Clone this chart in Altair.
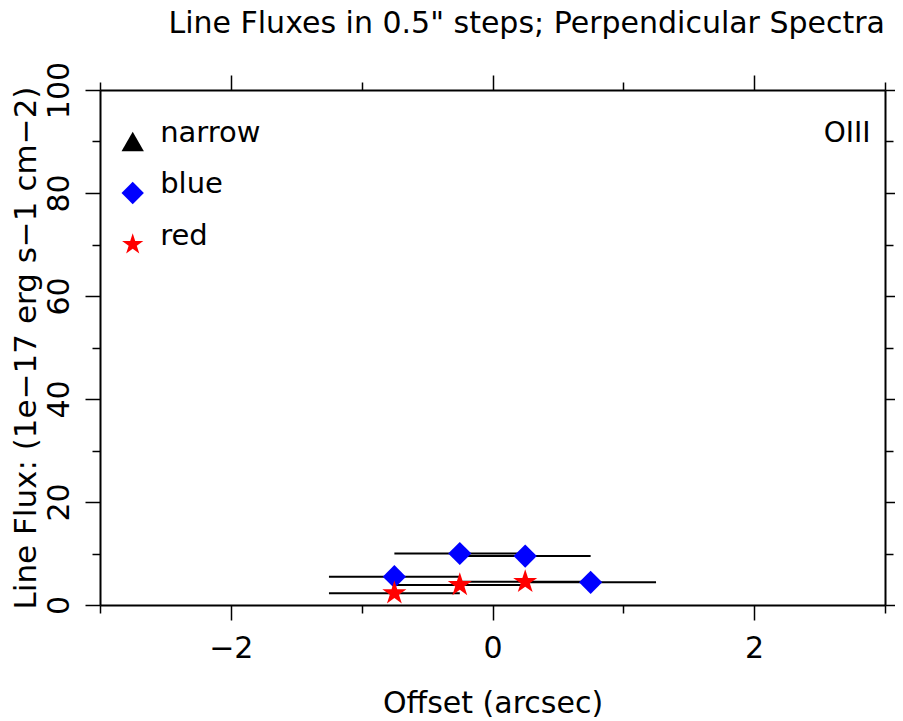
import altair as alt
import pandas as pd

# ---- data ----
offsets_blue = [-0.75, -0.25, 0.25, 0.75]
flux_blue = [5.5, 10.0, 9.5, 4.4]
xerr_blue = [0.5, 0.5, 0.5, 0.5]

offsets_red = [-0.75, -0.25, 0.25]
flux_red = [2.3, 3.9, 4.5]
xerr_red = [0.5, 0.5, 0.5]

legend_labels = ["narrow", "blue", "red"]
legend_shapes = ["triangle-up", "diamond", "star"]
legend_colors = ["#000000", "#0000ff", "#ff0000"]
legend_y = [90, 80, 70]
legend_sym_x = [-2.75, -2.75, -2.75]
legend_txt_x = [-2.54, -2.54, -2.54]

line_label = ["OIII"]
line_label_x = [2.89]
line_label_y = [90]

title_text = ['Line Fluxes in 0.5" steps; Perpendicular Spectra']

x_major = [-2, 0, 2]
x_minor = [-3, -1, 1, 3]
y_major = [0, 20, 40, 60, 80, 100]
y_minor = [10, 30, 50, 70, 90]

FONT = "DejaVu Sans"
STAR = ("M0,-1L0.2245,-0.309L0.951,-0.309L0.363,0.118L0.588,0.809L0,0.382"
        "L-0.588,0.809L-0.363,0.118L-0.951,-0.309L-0.2245,-0.309Z")
shape_paths = {"triangle-up": "triangle-up", "diamond": "diamond", "star": STAR}

blue_df = pd.DataFrame({"offset": offsets_blue, "flux": flux_blue, "err": xerr_blue})
red_df = pd.DataFrame({"offset": offsets_red, "flux": flux_red, "err": xerr_red})
err_df = pd.concat([blue_df, red_df], ignore_index=True)
err_df["xlo"] = err_df["offset"] - err_df["err"]
err_df["xhi"] = err_df["offset"] + err_df["err"]

leg_df = pd.DataFrame({
    "label": legend_labels,
    "shape": [shape_paths[s] for s in legend_shapes],
    "color": legend_colors,
    "y": legend_y, "sx": legend_sym_x, "tx": legend_txt_x,
})
lab_df = pd.DataFrame({"label": line_label, "x": line_label_x, "y": line_label_y})
title_df = pd.DataFrame({"label": title_text})

xs = alt.Scale(domain=[-3, 3], nice=False, zero=False)
ys = alt.Scale(domain=[0, 100], nice=False, zero=False)

common = dict(grid=False, domainColor="black", tickColor="black",
              labelColor="black", labelFont=FONT, labelFontSize=30,
              titleFont=FONT, titleFontSize=30, titleFontWeight="normal",
              titleColor="black", labelFlush=False, labelOverlap=False,
              tickWidth=1.5, domainWidth=2)

ax_bottom_major = alt.Axis(orient="bottom", values=x_major, tickSize=15,
                           labelPadding=37, labelBaseline="alphabetic",
                           labelAlign="center", title="Offset (arcsec)",
                           titleBaseline="alphabetic", titleY=107, **common)
ax_bottom_minor = alt.Axis(orient="bottom", values=x_minor, tickSize=8,
                           labels=False, domain=False, title=None, **common)
ax_top_major = alt.Axis(orient="top", values=x_major, tickSize=15,
                        labels=False, title=None, **common)
ax_top_minor = alt.Axis(orient="top", values=x_minor, tickSize=8,
                        labels=False, domain=False, title=None, **common)

common_y = dict(common)
common_y["titleFontSize"] = 31
ax_left_major = alt.Axis(orient="left", values=y_major, tickSize=15,
                         labelAngle=270, labelAlign="center",
                         labelBaseline="alphabetic", labelPadding=17,
                         title="Line Flux: (1e\u221217 erg s\u22121 cm\u22122)",
                         titleAngle=270, titleBaseline="alphabetic",
                         titleAlign="center", titleX=-65, titleY=257.5,
                         **common_y)
ax_left_minor = alt.Axis(orient="left", values=y_minor, tickSize=8,
                         labels=False, domain=False, title=None, **common)
ax_right_major = alt.Axis(orient="right", values=y_major, tickSize=15,
                          labels=False, title=None, **common)
ax_right_minor = alt.Axis(orient="right", values=y_minor, tickSize=8,
                          labels=False, domain=False, title=None, **common)

rules = alt.Chart(err_df).mark_rule(color="black", strokeWidth=2).encode(
    x=alt.X("xlo:Q", scale=xs, axis=ax_bottom_major),
    x2="xhi:Q",
    y=alt.Y("flux:Q", scale=ys, axis=ax_left_major),
)

blue = alt.Chart(blue_df).mark_point(shape="diamond", filled=True,
                                     color="#0000ff", size=540, opacity=1).encode(
    x=alt.X("offset:Q", scale=xs, axis=ax_top_major),
    y=alt.Y("flux:Q", scale=ys, axis=ax_right_major),
)

red = alt.Chart(red_df).mark_point(shape=STAR, filled=True,
                                   color="#ff0000", size=640, opacity=1).encode(
    x=alt.X("offset:Q", scale=xs, axis=ax_bottom_minor),
    y=alt.Y("flux:Q", scale=ys, axis=ax_left_minor),
)

leg_sym = alt.Chart(leg_df).mark_point(filled=True, size=500, opacity=1).encode(
    x=alt.X("sx:Q", scale=xs, axis=ax_top_minor),
    y=alt.Y("y:Q", scale=ys, axis=ax_right_minor),
    shape=alt.Shape("shape:N", scale=None),
    color=alt.Color("color:N", scale=None),
)

leg_txt = alt.Chart(leg_df).mark_text(align="left", baseline="alphabetic",
                                      font=FONT, fontSize=29, color="black").encode(
    x=alt.X("tx:Q", scale=xs, axis=None),
    y=alt.Y("y:Q", scale=ys, axis=None),
    text="label:N",
)

lab_txt = alt.Chart(lab_df).mark_text(align="right", baseline="alphabetic",
                                      font=FONT, fontSize=28, color="black").encode(
    x=alt.X("x:Q", scale=xs, axis=None),
    y=alt.Y("y:Q", scale=ys, axis=None),
    text="label:N",
)

title_txt = alt.Chart(title_df).mark_text(align="right", baseline="alphabetic",
                                          font=FONT, fontSize=30, color="black").encode(
    x=alt.value(785),
    y=alt.value(-57),
    text="label:N",
)

chart = alt.layer(rules, blue, red, leg_sym, leg_txt, lab_txt, title_txt).resolve_axis(
    x="independent", y="independent"
).properties(
    width=785, height=515,
    autosize=alt.AutoSizeParams(type="none"),
    padding={"left": 92, "top": 82, "right": 10, "bottom": 113},
).configure_view(stroke=None).configure(background="white")

chart.save("out.html", embed_options={"renderer": "svg", "actions": False})
